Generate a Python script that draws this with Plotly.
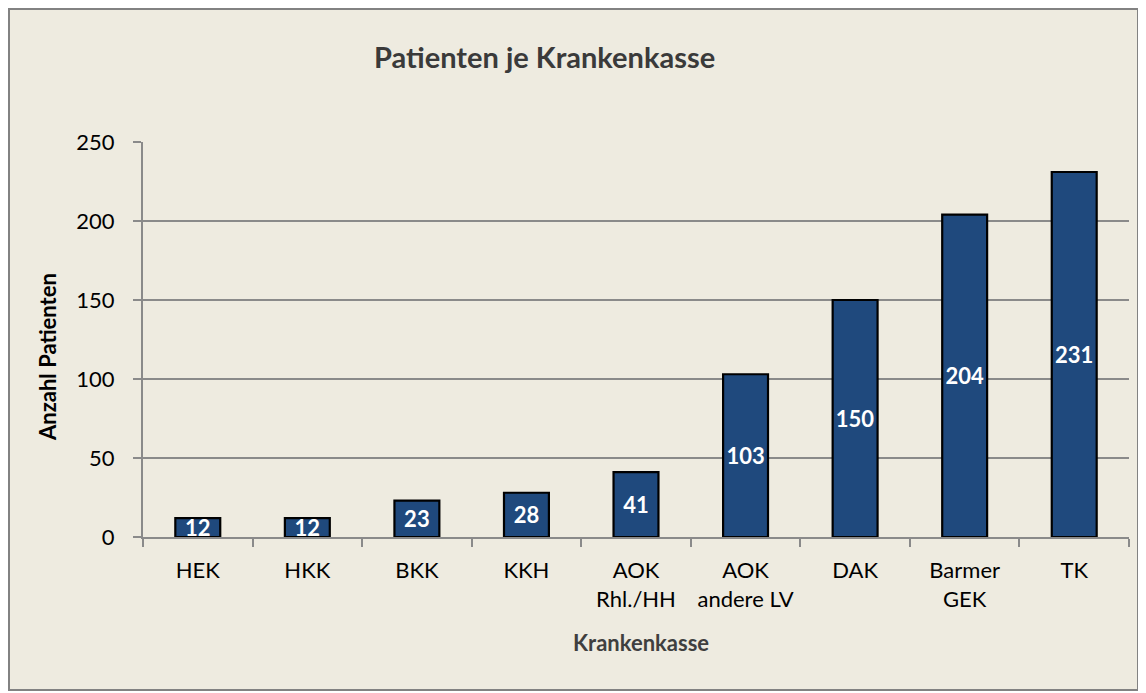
import plotly.graph_objects as go

categories = ["HEK", "HKK", "BKK", "KKH", "AOK<br>Rhl./HH", "AOK<br>andere LV", "DAK", "Barmer<br>GEK", "TK"]
values = [12, 12, 23, 28, 41, 103, 150, 204, 231]
y_ticks = [0, 50, 100, 150, 200, 250]

FONT = "Lato"
BG = "#EEEBE0"
GRID = "#8A8A8A"

# page has an 8px body margin; work in screen coords and shift by OFF
OFF = 8
W, H = 1146 - OFF, 693 - OFF
L, R, T, B = 143 - OFF, 17, 142 - OFF, 693 - 537
pw, ph = W - L - R, H - T - B

def px_x(sx):
    return (sx - OFF - L) / pw

def px_y(sy):
    return (H - B - (sy - OFF)) / ph

fig = go.Figure()
fig.add_trace(go.Bar(
    x=categories, y=values,
    marker=dict(color="#1F497D", line=dict(color="#000000", width=2.2)),
    text=[str(v) for v in values],
    textposition="inside", insidetextanchor="middle", textangle=0,
    constraintext="none", cliponaxis=False,
    textfont=dict(family=FONT, size=22, color="white", weight="bold"),
    width=0.41,
))

fig.add_shape(type="rect", xref="paper", yref="paper",
              x0=px_x(9), x1=px_x(1138), y0=px_y(690), y1=px_y(9),
              line=dict(color="#828282", width=2), fillcolor=BG, layer="below")

fig.add_annotation(text="<b>Patienten je Krankenkasse</b>", xref="paper", yref="paper",
                   x=px_x(544), y=px_y(57), showarrow=False, xanchor="center", yanchor="middle",
                   font=dict(family=FONT, size=29, color="#3A3A3A"))
fig.add_annotation(text="<b>Krankenkasse</b>", xref="paper", yref="paper",
                   x=px_x(641), y=px_y(642), showarrow=False, xanchor="center", yanchor="middle",
                   font=dict(family=FONT, size=22, color="#3F3F3F"))
fig.add_annotation(text="<b>Anzahl Patienten</b>", xref="paper", yref="paper",
                   x=px_x(47), y=px_y(357), showarrow=False, xanchor="center", yanchor="middle",
                   textangle=-90, font=dict(family=FONT, size=22, color="#000000"))

fig.update_layout(
    width=W, height=H,
    margin=dict(l=L, r=R, t=T, b=B, pad=0),
    paper_bgcolor="white", plot_bgcolor="rgba(0,0,0,0)",
    showlegend=False,
    font=dict(family=FONT, size=22, color="#000000"),
)
fig.update_xaxes(
    showline=True, linecolor=GRID, linewidth=2,
    ticks="outside", tickson="boundaries", ticklen=8, tickcolor=GRID, tickwidth=2,
    ticklabelstandoff=13,
    tickfont=dict(family=FONT, size=22, color="#000000"),
    showgrid=False, zeroline=False,
)
fig.update_yaxes(
    range=[0, 250], tickvals=y_ticks,
    showline=True, linecolor=GRID, linewidth=2,
    ticks="outside", ticklen=8, tickcolor=GRID, tickwidth=2,
    ticklabelstandoff=14,
    tickfont=dict(family=FONT, size=22, color="#000000"),
    showgrid=True, gridcolor=GRID, gridwidth=2, zeroline=False,
)

fig.write_html("out.html")
